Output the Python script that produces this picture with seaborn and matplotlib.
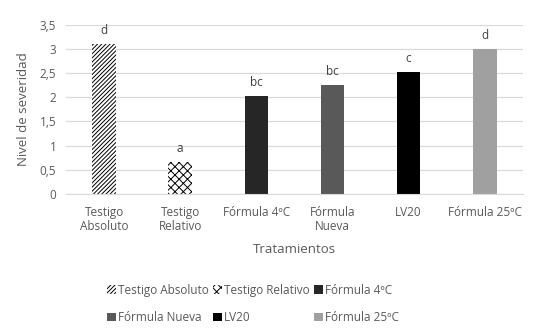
import matplotlib
matplotlib.use("Agg")
import matplotlib.pyplot as plt
import matplotlib.patches as mpatches
import pandas as pd
import seaborn as sns

tratamientos = ["Testigo\nAbsoluto", "Testigo\nRelativo", "Fórmula 4ºC",
                "Fórmula\nNueva", "LV20", "Fórmula 25ºC"]
leyenda = ["Testigo Absoluto", "Testigo Relativo", "Fórmula 4ºC",
           "Fórmula Nueva", "LV20", "Fórmula 25ºC"]
severidad = [3.1, 0.67, 2.02, 2.25, 2.52, 3.0]
letras = ["d", "a", "bc", "bc", "c", "d"]

colores = ["white", "white", "#262626", "#595959", "#000000", "#a0a0a0"]
tramas = ["////////", "xxxx", None, None, None, None]

sns.set_style("white")
plt.rcParams["font.family"] = ["Open Sans", "DejaVu Sans"]
plt.rcParams["hatch.linewidth"] = 0.7
plt.rcParams["hatch.color"] = "black"
gris = "#595959"

df = pd.DataFrame({"trat": tratamientos, "sev": severidad})

fig = plt.figure(figsize=(5.33, 3.32), dpi=100)
ax = fig.add_axes([0.124, 0.416, 0.857, 0.509])
sns.barplot(data=df, x="trat", y="sev", hue="trat", palette=colores,
            width=0.31, legend=False, ax=ax, saturation=1)

for bar, trama in zip(ax.patches, tramas):
    bar.set_linewidth(0)
    if trama:
        bar.set_edgecolor("black")
        bar.set_hatch(trama)

for i, (v, t) in enumerate(zip(severidad, letras)):
    ax.annotate(t, (i, v), xytext=(0, 5), textcoords="offset points",
                ha="center", va="bottom", fontsize=8.5, color="#404040")

ax.set_ylim(0, 3.5)
ax.set_yticks([0, 0.5, 1, 1.5, 2, 2.5, 3, 3.5])
ax.set_yticklabels(["0", "0,5", "1", "1,5", "2", "2,5", "3", "3,5"])
ax.set_xlim(-0.5, 5.5)
ax.yaxis.grid(True, color="#d9d9d9", linewidth=0.9)
ax.set_axisbelow(True)
for s in ["top", "right", "left"]:
    ax.spines[s].set_visible(False)
ax.spines["bottom"].set_color("#d9d9d9")
ax.tick_params(axis="both", length=0, colors=gris, labelsize=8.5)
ax.tick_params(axis="y", pad=7)
ax.tick_params(axis="x", pad=9)
for lab in ax.get_xticklabels():
    lab.set_linespacing(1.1)
ax.set_xlabel("Tratamientos", color=gris, fontsize=9.5, labelpad=7)
ax.set_ylabel("Nivel de severidad", color=gris, fontsize=9.5, labelpad=7)

handles = []
for c, h, lab in zip(colores, tramas, leyenda):
    ec = "black" if h else "none"
    handles.append(mpatches.Patch(facecolor=c, hatch=h, edgecolor=ec,
                                  linewidth=0, label=lab))
orden = [0, 3, 1, 4, 2, 5]
leg = fig.legend([handles[i] for i in orden], [leyenda[i] for i in orden],
                 loc="center", bbox_to_anchor=(0.475, 0.085), ncol=3,
                 frameon=False, fontsize=8.5, handlelength=0.7, handleheight=0.7,
                 handletextpad=0.2, columnspacing=0.4, labelspacing=1.2)
for txt in leg.get_texts():
    txt.set_color(gris)

fig.savefig("out.png", dpi=100)
